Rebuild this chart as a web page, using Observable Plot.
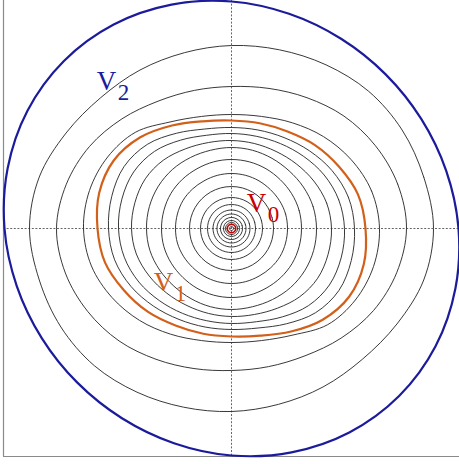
<!DOCTYPE html>
<html>
<head>
<meta charset="utf-8">
<script src="https://cdn.jsdelivr.net/npm/d3@7"></script>
<script src="https://cdn.jsdelivr.net/npm/@observablehq/plot@0.6"></script>
<style>
  html, body { margin: 0; padding: 0; background: #fff; }
  #chart svg { display: block; }
</style>
</head>
<body>
<div id="chart"></div>
<script>
// Polar sample angles (degrees) of the upper half; the lower half is the point reflection.
const angleDeg = [0, 15, 30, 45, 60, 75, 90, 105, 120, 135, 150, 165];

// Radii (data units) of each level curve at those angles.
const blueR   = [227, 222.3, 219.1, 218, 219.1, 222.3, 227, 231.8, 235.6, 237, 235.6, 231.8];
const orangeR = [134, 131, 124, 118, 112, 109, 108, 111, 119, 129, 136, 137];
const blackR = [
  [202, 199, 197, 194, 189, 185, 183, 182, 183, 185, 191, 199],
  [175, 172, 166, 159, 151, 145, 142, 143, 147, 155, 164, 171],
  [148, 145, 138, 130, 122, 116, 114, 116, 123, 136, 143, 147],
  [123, 121, 116, 110, 105, 102, 101, 103, 110, 119, 124, 124],
  [113, 111, 107, 102,  98, 95.5, 95, 96.5, 102, 109, 113, 113.5],
  [100, 98.5, 95, 91.5, 89,  88,  88,  89,  92, 96.5, 99.5, 100],
  [ 85, 84.5, 83, 81.5, 81,  81,  81,  81,  82, 83.5, 84.5, 85],
  [ 70,  70, 69.5, 69,  69,  69,  69,  69,  69, 69.5, 70,  70],
  [ 56,  56, 55.5, 55,  55,  55,  55,  55,  55, 55.5, 56,  56]
];
// Inner, nearly circular level curves (radii)
const circleR = [42, 31, 24, 18.5, 14.5, 11, 8, 6, 2];
const redR = 4.2;

// Labels: name, subscript, anchor (data units), colour
const labelName = ["V", "V", "V"];
const labelSub  = ["2", "1", "0"];
const labelX    = [-125, -68, 25];
const labelY    = [147, -54, 25];
const labelColor = ["#1b1b9b", "#d2601a", "#c80000"];

function ring(radii, id) {
  const pts = [];
  for (let k = 0; k < 2 * angleDeg.length; k++) {
    const i = k % angleDeg.length;
    const t = (angleDeg[i] + (k >= angleDeg.length ? 180 : 0)) * Math.PI / 180;
    pts.push({x: radii[i] * Math.cos(t), y: radii[i] * Math.sin(t), id});
  }
  return pts;
}

const blackPts = [];
blackR.forEach((r, j) => blackPts.push(...ring(r, "b" + j)));
circleR.forEach((r, j) => blackPts.push(...ring(angleDeg.map(() => r), "c" + j)));
const bluePts = ring(blueR, "blue");
const orangePts = ring(orangeR, "orange");
const redPts = ring(angleDeg.map(() => redR), "red");

const labels = labelName.map((n, i) => ({name: n, sub: labelSub[i], x: labelX[i], y: labelY[i], color: labelColor[i]}));

const font = "'Liberation Serif', 'Times New Roman', serif";

const chart = Plot.plot({
  width: 459,
  height: 464,
  marginTop: 0,
  marginRight: 0,
  marginBottom: 8,
  marginLeft: 3,
  x: {domain: [-228, 228], axis: null},
  y: {domain: [-228, 228], axis: null},
  style: {background: "#fff", overflow: "visible"},
  marks: [
    Plot.ruleX([0], {stroke: "#666", strokeWidth: 1, strokeDasharray: "2,1.6"}),
    Plot.ruleY([0], {stroke: "#666", strokeWidth: 1, strokeDasharray: "2,1.6"}),
    Plot.ruleX([-228], {stroke: "#8a8a8a", strokeWidth: 1.2}),
    Plot.ruleY([-228], {stroke: "#8a8a8a", strokeWidth: 1.2}),
    Plot.line(blackPts, {x: "x", y: "y", z: "id", curve: "catmull-rom-closed", stroke: "#222", strokeWidth: 0.9}),
    Plot.line(orangePts, {x: "x", y: "y", curve: "catmull-rom-closed", stroke: "#d2601a", strokeWidth: 2.2}),
    Plot.line(bluePts, {x: "x", y: "y", curve: "catmull-rom-closed", stroke: "#1b1b9b", strokeWidth: 2.2}),
    Plot.line(redPts, {x: "x", y: "y", curve: "catmull-rom-closed", stroke: "#c80000", strokeWidth: 1.6}),
    Plot.text(labels, {x: "x", y: "y", text: "name", fill: "color", fontSize: 27, fontFamily: font, textAnchor: "middle"}),
    Plot.text(labels, {x: "x", y: "y", text: "sub", fill: "color", fontSize: 23, fontFamily: font, textAnchor: "middle", dx: 17, dy: 11})
  ]
});
document.getElementById("chart").appendChild(chart);
</script>
</body>
</html>
